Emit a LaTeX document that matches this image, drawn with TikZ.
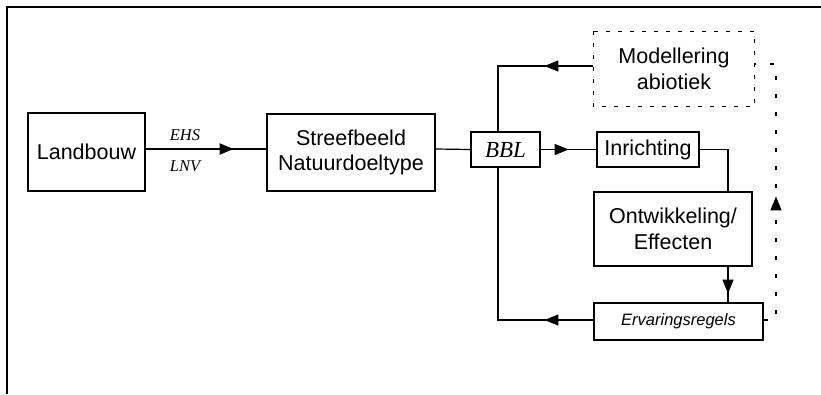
\documentclass[tikz,border=0pt]{standalone}
\usepackage{fontspec}
\setmainfont{Liberation Sans}
\newfontfamily\tms{Liberation Serif}
\usetikzlibrary{arrows.meta,decorations.markings}
\tikzset{
  box/.style={draw, line width=1.2pt, inner sep=0pt, align=center, font=\fontsize{21.5}{25.5}\selectfont},
  conn/.style={line width=1.2pt},
  tipat/.style={postaction={decorate}, decoration={markings, mark=at position #1 with {\arrow{Triangle[length=14pt,width=11pt]}}}},
  dotline/.style={line width=1.2pt, dash pattern=on 4pt off 14pt},
}
\begin{document}
\begin{tikzpicture}[x=1pt,y=-1pt]
\useasboundingbox (0,0) rectangle (821,394);
\draw[line width=1.5pt] (821,7) -- (7,7) -- (7,394);
% nodes
\node[box, minimum width=117pt, minimum height=78pt] (land) at (86.5,152) {Landbouw};
\node[box, minimum width=168pt, minimum height=77pt] (streef) at (351,152.5) {Streefbeeld\\Natuurdoeltype};
\node[box, minimum width=69pt, minimum height=35pt, font=\tms\itshape\fontsize{23}{27}\selectfont] (bbl) at (505.5,149.5) {BBL};
\node[box, minimum width=102pt, minimum height=35pt] (inr) at (648,149.5) {Inrichting};
\node[box, minimum width=158pt, minimum height=74pt] (ont) at (673,229) {Ontwikkeling/\\Effecten};
\node[box, minimum width=169pt, minimum height=37pt, font=\itshape\fontsize{16.5}{20}\selectfont] (erv) at (678.5,321.5) {Ervaringsregels};
\node[box, draw=none, minimum width=160pt, minimum height=74pt] (mod) at (674,69) {Modellering\\abiotiek};
\draw[line width=1.2pt, dash pattern=on 4pt off 8pt] (mod.north west) rectangle (mod.south east);
% labels
\node[font=\tms\itshape\fontsize{16.5}{19}\selectfont] (ehs) at (185,135) {EHS};
\node[font=\tms\itshape\fontsize{16.5}{19}\selectfont] (lnv) at (185,166) {LNV};
% coordinates
\coordinate (vx) at (498,0);
\coordinate (ox) at (728,0);
\coordinate (dr) at (776,320);
\coordinate (dt) at (776,64);
% connectors
\draw[line width=2pt, tipat=88pt] (land.east |- 0,149) -- (streef.west |- 0,149);
\draw[conn] (streef.east |- 0,149) -- (bbl.west);
\draw[conn, tipat=28pt] (bbl.east) -- (inr.west);
\draw[conn, tipat=49pt] (mod.west |- 0,66) -| (bbl.north -| vx);
\draw[conn, tipat=49pt] (erv.west |- 0,320) -| (bbl.south -| vx);
\draw[conn] (inr.east) -| (ont.north -| ox);
\draw[conn, tipat=27pt] (ont.south -| ox) -- (erv.north -| ox);
\draw[dotline, tipat=136pt] (erv.east |- dr) -- (dr) -- (dt) -- (mod.east |- dt);
\end{tikzpicture}
\end{document}
